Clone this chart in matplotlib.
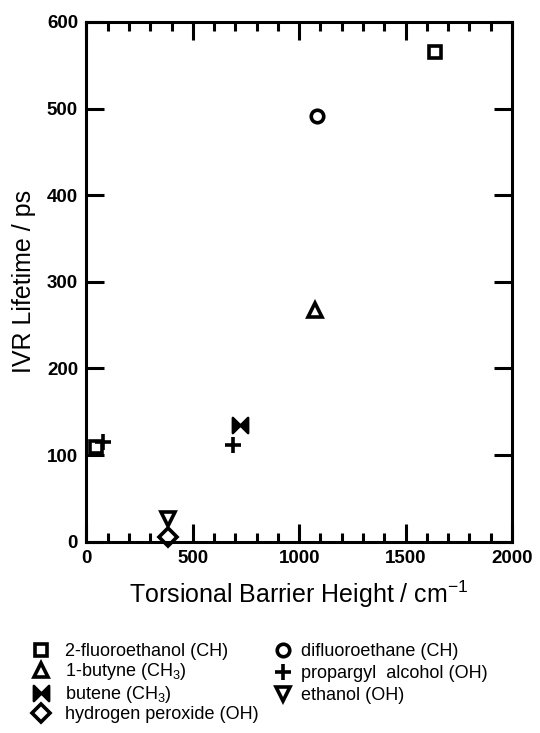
import numpy as np
import matplotlib
matplotlib.use("Agg")
import matplotlib.pyplot as plt
from matplotlib.path import Path
from matplotlib.ticker import MultipleLocator

plt.rcParams['font.family'] = ['Liberation Sans', 'DejaVu Sans']
plt.rcParams['mathtext.default'] = 'regular'

# Valores (barreira torsional em cm-1, tempo de vida IVR em ps)
fluoroethanol_x = [45, 1640]
fluoroethanol_y = [109, 565]
butyne_x = [1075]
butyne_y = [268]
butene_x = [720]
butene_y = [135]
peroxide_x = [385]
peroxide_y = [5]
difluoroethane_x = [1082]
difluoroethane_y = [492]
propargyl_x = [78, 688]
propargyl_y = [115, 112]
ethanol_x = [383]
ethanol_y = [26]

labels = ['2-fluoroethanol (CH)', '1-butyne (CH$_3$)', 'butene (CH$_3$)',
          'hydrogen peroxide (OH)', 'difluoroethane (CH)',
          'propargyl  alcohol (OH)', 'ethanol (OH)']

# marcador "gravata borboleta" para o buteno
bowtie = Path([(-1, -1), (-1, 1), (1, -1), (1, 1), (-1, -1)],
              [Path.MOVETO, Path.LINETO, Path.LINETO, Path.LINETO, Path.CLOSEPOLY])

fig = plt.figure(figsize=(5.4, 7.33), dpi=100)
ax = fig.add_axes([0.16, 0.261, 0.788, 0.709])

open_kw = dict(linestyle='none', markerfacecolor='white', markeredgecolor='black',
               markeredgewidth=2.6, clip_on=False)
ax.plot(fluoroethanol_x, fluoroethanol_y, marker='s', markersize=9, label=labels[0], **open_kw)
ax.plot(butyne_x, butyne_y, marker='^', markersize=10, label=labels[1], **open_kw)
ax.plot(butene_x, butene_y, marker=bowtie, markersize=11, linestyle='none', color='black',
        markeredgewidth=1.8, label=labels[2], clip_on=False)
ax.plot(peroxide_x, peroxide_y, marker='D', markersize=9, label=labels[3], **open_kw)
ax.plot(difluoroethane_x, difluoroethane_y, marker='o', markersize=9, label=labels[4], **open_kw)
ax.plot(propargyl_x, propargyl_y, marker='+', markersize=12, linestyle='none', color='black',
        markeredgewidth=2.6, label=labels[5], clip_on=False)
ax.plot(ethanol_x, ethanol_y, marker='v', markersize=10, label=labels[6], **open_kw)

ax.set_xlim(0, 2000)
ax.set_ylim(0, 600)
ax.xaxis.set_major_locator(MultipleLocator(500))
ax.xaxis.set_minor_locator(MultipleLocator(100))
ax.yaxis.set_major_locator(MultipleLocator(100))

ax.tick_params(which='both', direction='in', top=True, right=True, width=2.2)
ax.tick_params(which='major', length=13, labelsize=13.5, pad=6)
ax.tick_params(which='minor', length=6.5)
for lab in ax.get_xticklabels() + ax.get_yticklabels():
    lab.set_fontweight('bold')
for s in ax.spines.values():
    s.set_linewidth(2.2)

ax.set_xlabel('Torsional Barrier Height / cm$^{-1}$', fontsize=18, labelpad=8)
ax.set_ylabel('IVR Lifetime / ps', fontsize=18, labelpad=8)

# legenda em duas colunas separadas para alinhar as linhas
handles, labs = ax.get_legend_handles_labels()
leg_kw = dict(loc='upper left', frameon=False, fontsize=13,
              handlelength=1.2, numpoints=1)
leg1 = fig.legend(handles[:4], labs[:4], bbox_to_anchor=(0.026, 0.145),
                  labelspacing=0.08, handletextpad=0.75, **leg_kw)
leg2 = fig.legend(handles[4:], labs[4:], bbox_to_anchor=(0.474, 0.145),
                  labelspacing=0.28, handletextpad=0.4, **leg_kw)

fig.savefig('out.png', dpi=100)
